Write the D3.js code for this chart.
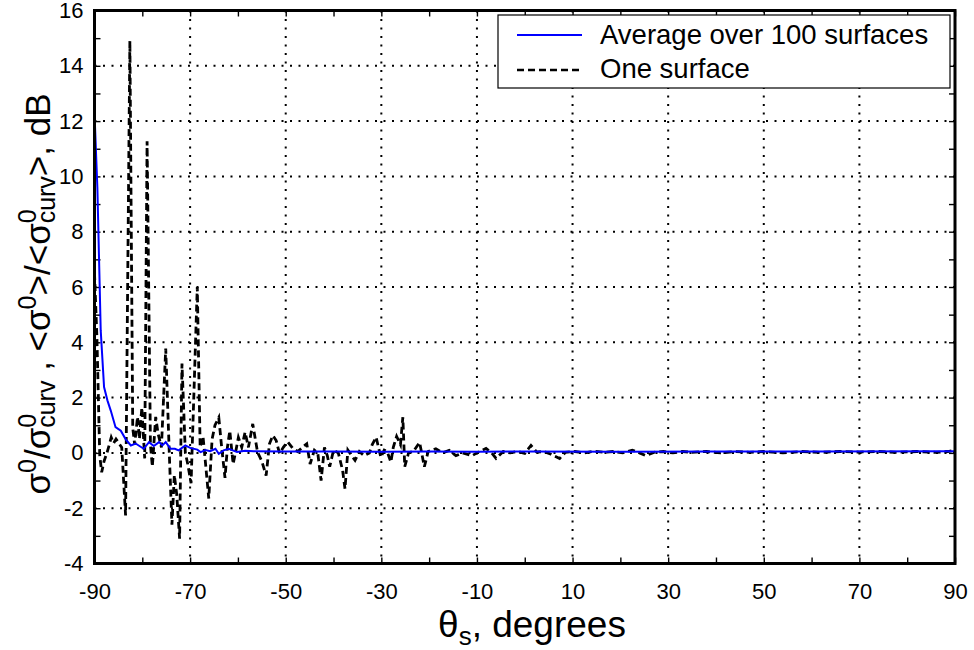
<!DOCTYPE html>
<html>
<head>
<meta charset="utf-8">
<script src="https://cdn.jsdelivr.net/npm/d3@7"></script>
<style>
  body { margin: 0; background: #fff; }
  svg { font-family: "Liberation Sans", Arial, sans-serif; }
</style>
</head>
<body>
<div id="chart"></div>
<script>
// average over 100 surfaces
var avgAngle = [-90, -89.4, -88.7, -88.0, -87.3, -86.6, -85.6, -84.5, -83.5, -82.4, -81.4, -79.7, -78.6, -77.6,
  -76.5, -75.8, -75.1, -74.1, -73.2, -72.4, -71.0, -70.0, -68.5, -67.8, -66.8, -65.8, -64.7, -64.0, -63.0,
  -61.9, -60.2, -58.5, -56.7, -50, -40, -30, -20, -10, 0, 20, 40, 60, 90];
var avgValue = [12.3, 9.6, 4.43, 2.38, 1.9, 1.53, 0.93, 0.8, 0.5, 0.27, 0.34, 0.15, 0.39, 0.25,
  0.39, 0.27, 0.39, 0.15, 0.15, 0.09, 0.27, 0.18, 0.12, 0.03, 0.1, 0.06, 0.15, -0.03, 0.09,
  0.15, 0.03, 0.08, 0.06, 0.05, 0.05, 0.04, 0.05, 0.04, 0.05, 0.04, 0.05, 0.05, 0.06];

// one surface
var oneAngle = [-90, -89.5, -88.9, -88.5, -88.0, -87.4, -86.9, -86.5, -86.0, -85.5, -84.3, -83.5,
  -82.6, -82.0, -81.6, -81.0, -80.6, -80.1, -79.5, -79.0, -78.3, -77.9, -77.2, -76.7, -76.0,
  -75.1, -74.4, -73.8, -73.3, -72.8, -72.2, -71.7, -71.0, -70.5, -69.8, -68.5, -67.9, -67.3,
  -66.1, -65.4, -64.8, -64.0, -63.4, -62.7, -62.2, -61.7, -61.0, -60.4, -59.9, -59.2, -58.5,
  -57.8, -56.9, -55.9, -55.0, -54.1, -53.4, -52.7, -52.0, -51.3, -50.5, -49.6, -48.5, -47.5,
  -46.5, -45.6, -44.9, -44.0, -43.3, -42.6, -41.9, -41.3, -40.8, -40.0, -39.0, -38.1, -37.6,
  -37.0, -36.2, -35.5, -34.6, -33.6, -32.5, -31.9, -31.1, -30.1, -29.4, -28.8, -28.0, -27.5,
  -26.8, -26.0, -25.5, -25.1, -24.3, -23.3, -22.0, -21.0, -20.2, -18.6, -17.2, -15.8, -14.4,
  -13.0, -11.0, -9.5, -8.1, -6.9, -6.0, -4.5, -3.0, -1.5, 0.0, 1.3, 2.5, 4.0, 5.5, 7.3, 8.5,
  10.5, 12.5, 14.5, 16.5, 18.5, 20.5, 22.5, 24.0, 25.3, 27.0, 29.0, 31.0, 33.0, 35.0, 38.0,
  41.0, 44.0, 47.0, 50.0, 54.0, 58.0, 62.0, 66.0, 70.0, 74.0, 78.0, 82.0, 86.0, 88.5, 90.0];
var oneValue = [6.5, 4.2, -0.1, -0.7, -0.3, 0.0, 0.3, 0.56, 0.35, 0.5, 0.2, -2.26,
  14.9, 0.9, 0.3, 1.3, 0.5, 1.64, -0.2, 11.27, 0.3, -0.5, 1.3, 0.7, 0.2,
  3.77, 0.2, -2.6, -0.8, -1.5, -3.1, 3.23, 0.0, -0.4, -1.1, 6.0, 0.2, 0.6,
  -1.65, 0.5, 1.0, 1.28, 0.2, -0.9, 0.2, 0.8, -0.4, 0.1, 0.56, 0.2, 0.75,
  0.2, 1.05, 0.03, -0.3, -0.82, 0.33, 0.63, 0.45, -0.02, 0.2, 0.4, 0.16, 0.05,
  0.2, 0.33, -0.4, 0.1, 0.0, -1.0, 0.2, -0.1, -0.5, 0.1, 0.0, -0.63, -1.3,
  0.1, -0.1, -0.27, 0.05, -0.1, 0.0, 0.3, 0.57, -0.16, 0.1, 0.05, -0.33, 0.2,
  0.6, 0.3, 1.29, -0.5, 0.0, 0.05, 0.38, -0.5, 0.05, 0.15, 0.0, 0.09, -0.1,
  0.0, -0.1, 0.05, 0.16, 0.0, -0.2, 0.05, 0.0, 0.05, -0.02, 0.27, 0.03, 0.05, -0.05, -0.2, 0.02,
  0.05, 0.0, 0.06, 0.02, 0.05, 0.0, 0.1, 0.0, -0.1, 0.02, 0.05, 0.0, 0.05, 0.02, 0.05,
  0.0, 0.05, 0.02, 0.05, 0.0, 0.05, 0.02, 0.05, 0.03, 0.05, 0.02, 0.05, 0.02, 0.05, 0.1];

var xLabels = [-90, -70, -50, -30, -10, 10, 30, 50, 70, 90];
var yLabels = [-4, -2, 0, 2, 4, 6, 8, 10, 12, 14, 16];
var legendNames = ["Average over 100 surfaces", "One surface"];

var W = 974, H = 650;
var plotL = 94.5, plotR = 955, plotT = 10.5, plotB = 563.5;

var x = d3.scaleLinear().domain([-90, 90]).range([plotL, plotR]);
var y = d3.scaleLinear().domain([-4, 16]).range([plotB, plotT]);
var fmt = function (d) { return String(d); };

var svg = d3.select("#chart").append("svg")
  .attr("width", W)
  .attr("height", H);

// grid
var gridX = d3.range(-70, 71, 20);
var gridY = d3.range(-2, 15, 2);
svg.append("g").selectAll("line").data(gridX).enter().append("line")
  .attr("x1", function (d) { return x(d); }).attr("x2", function (d) { return x(d); })
  .attr("y1", plotT).attr("y2", plotB)
  .attr("stroke", "#000").attr("stroke-width", 2).attr("stroke-dasharray", "2,6.5");
svg.append("g").selectAll("line").data(gridY).enter().append("line")
  .attr("x1", plotL).attr("x2", plotR)
  .attr("y1", function (d) { return y(d); }).attr("y2", function (d) { return y(d); })
  .attr("stroke", "#000").attr("stroke-width", 2).attr("stroke-dasharray", "2,6.5");

// minor ticks, all four sides, pointing inward
function tickAxis(axis, tx, ty) {
  var g = svg.append("g").attr("transform", "translate(" + tx + "," + ty + ")")
    .call(axis.tickSize(-6).tickFormat(""));
  g.select(".domain").remove();
  g.selectAll(".tick line").attr("stroke", "#000").attr("stroke-width", 1.4);
}
tickAxis(d3.axisBottom(x).tickValues(d3.range(-90, 91, 10)), 0, plotB);
tickAxis(d3.axisTop(x).tickValues(d3.range(-90, 91, 10)), 0, plotT);
tickAxis(d3.axisLeft(y).tickValues(d3.range(-4, 17, 1)), plotL, 0);
tickAxis(d3.axisRight(y).tickValues(d3.range(-4, 17, 1)), plotR, 0);

// tick labels
var xAx = svg.append("g").attr("transform", "translate(0," + plotB + ")")
  .call(d3.axisBottom(x).tickValues(xLabels).tickFormat(fmt).tickSize(0).tickPadding(20));
xAx.select(".domain").remove();
xAx.selectAll("text").attr("font-size", 22).attr("fill", "#000")
  .style("font-family", "Liberation Sans, Arial, sans-serif");

var yAx = svg.append("g").attr("transform", "translate(" + plotL + ",0)")
  .call(d3.axisLeft(y).tickValues(yLabels).tickFormat(fmt).tickSize(0).tickPadding(11));
yAx.select(".domain").remove();
yAx.selectAll("text").attr("font-size", 22).attr("fill", "#000")
  .style("font-family", "Liberation Sans, Arial, sans-serif");

// series
var avgLine = d3.line()
  .x(function (d, i) { return x(avgAngle[i]); })
  .y(function (d) { return y(d); });
var oneLine = d3.line()
  .x(function (d, i) { return x(oneAngle[i]); })
  .y(function (d) { return y(d); });

svg.append("path").datum(oneValue)
  .attr("d", oneLine)
  .attr("fill", "none").attr("stroke", "#000").attr("stroke-width", 2.8)
  .attr("stroke-dasharray", "7,4");

svg.append("path").datum(avgValue)
  .attr("d", avgLine)
  .attr("fill", "none").attr("stroke", "#0000ff").attr("stroke-width", 2);

// frame
svg.append("rect")
  .attr("x", plotL).attr("y", plotT)
  .attr("width", plotR - plotL).attr("height", plotB - plotT)
  .attr("fill", "none").attr("stroke", "#000").attr("stroke-width", 3);

// legend
var leg = svg.append("g");
leg.append("rect")
  .attr("x", 498).attr("y", 15).attr("width", 452).attr("height", 73)
  .attr("fill", "#fff").attr("stroke", "#000").attr("stroke-width", 1.2);
leg.append("line").attr("x1", 517).attr("x2", 582).attr("y1", 35).attr("y2", 35)
  .attr("stroke", "#0000ff").attr("stroke-width", 2.2);
leg.append("line").attr("x1", 517).attr("x2", 582).attr("y1", 70).attr("y2", 70)
  .attr("stroke", "#000").attr("stroke-width", 2.4).attr("stroke-dasharray", "7,4");
leg.selectAll("text").data(legendNames).enter().append("text")
  .attr("x", 600)
  .attr("y", function (d, i) { return 44 + i * 34; })
  .attr("font-size", 27.5)
  .text(function (d) { return d; });

// x title
var xt = svg.append("text")
  .attr("x", 532).attr("y", 637)
  .attr("text-anchor", "middle")
  .attr("font-size", 37);
xt.append("tspan").text("θ");
xt.append("tspan").attr("font-size", 26).attr("dy", 8).text("s");
xt.append("tspan").attr("dy", -8).text(", degrees");

// y title
var yt = svg.append("text")
  .attr("transform", "translate(50,294) rotate(-90)")
  .attr("text-anchor", "middle")
  .attr("font-size", 35);
yt.append("tspan").text("σ");
yt.append("tspan").attr("font-size", 25).attr("dy", -14).text("0");
yt.append("tspan").attr("dy", 14).text("/σ");
yt.append("tspan").attr("font-size", 25).attr("dy", -14).text("0");
yt.append("tspan").attr("font-size", 25).attr("dx", -14).attr("dy", 19).text("curv");
yt.append("tspan").attr("dy", -5).text(" ,  <σ");
yt.append("tspan").attr("font-size", 25).attr("dy", -14).text("0");
yt.append("tspan").attr("dy", 14).text(">/<σ");
yt.append("tspan").attr("font-size", 25).attr("dy", -14).text("0");
yt.append("tspan").attr("font-size", 25).attr("dx", -14).attr("dy", 19).text("curv");
yt.append("tspan").attr("dy", -5).text(">, dB");
</script>
</body>
</html>
